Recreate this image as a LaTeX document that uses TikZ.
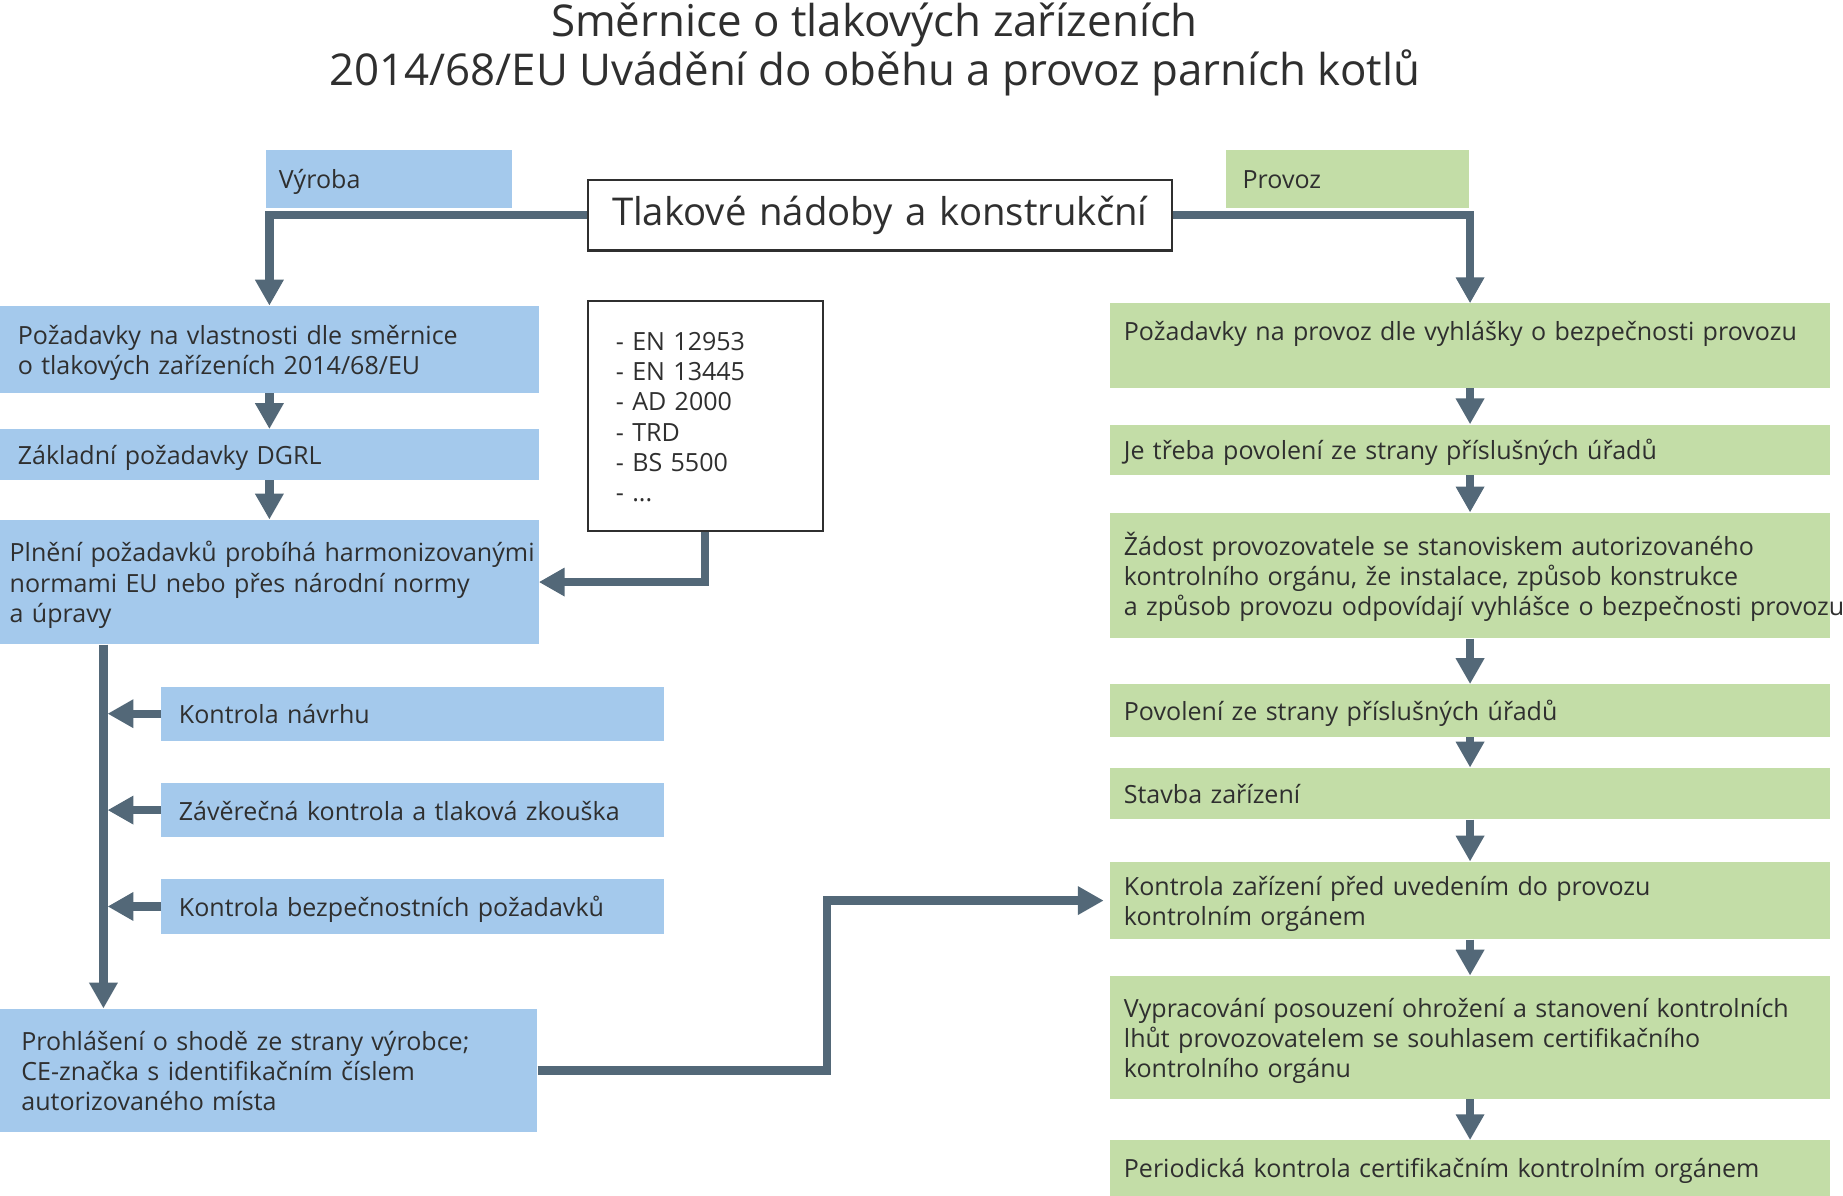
\documentclass[tikz,border=0pt]{standalone}
\usepackage{fontspec}
\setmainfont{Open Sans}
\usetikzlibrary{positioning, arrows.meta, calc}
\definecolor{BlueB}{HTML}{A4C9EC}
\definecolor{GreenB}{HTML}{C3DDA7}
\definecolor{SlateA}{HTML}{536878}
\definecolor{InkA}{HTML}{2F2F2F}
\tikzset{
  box/.style={anchor=north west, align=left, inner ysep=0pt, text=InkA, font=\fontsize{21.3}{25.7}\selectfont,
    text height=21pt, text depth=4pt},
  two/.style={text depth=29.7pt},
  three/.style={text depth=55.4pt},
  vy/.style={fill=BlueB},
  pr/.style={fill=GreenB, text width=589pt, inner xsep=12pt},
  frame/.style={draw=InkA, line width=2pt, fill=white},
  arr/.style={-{Triangle[length=22pt, width=23pt]}, line width=7pt, draw=SlateA, line join=miter}
}

\begin{document}
\begin{tikzpicture}[x=1pt, y=-1pt]
  \useasboundingbox (0,0) rectangle (1568,1017);
  \node[font=\fontsize{37.3}{42}\selectfont, align=center, text=InkA] (titel) at (744,42) {Směrnice o tlakových zařízeních\\2014/68/EU Uvádění do oběhu a provoz parních kotlů};

  \node[box,vy,text width=187pt,inner xsep=11pt,minimum height=50pt] (vyroba) at (226,127) {Výroba};
  \node[box,pr,text width=179pt,inner xsep=14pt,minimum height=50pt] (provoz) at (1043,127) {Provoz};
  \node[frame,anchor=north west,align=center,text=InkA,text width=457pt,inner xsep=20pt,minimum height=60pt,font=\fontsize{32.6}{36}\selectfont] (tlak) at (499,152) {Tlakové nádoby a konstrukční};

  % vyroba
  \node[box,two,vy,text width=428pt,inner xsep=15pt,minimum height=74pt] (b1) at (0,260) {Požadavky na vlastnosti dle směrnice\\o tlakových zařízeních 2014/68/EU};
  \node[box,vy,text width=428pt,inner xsep=15pt,minimum height=43pt] (b2) at (0,365) {Základní požadavky DGRL};
  \node[box,three,vy,text width=442pt,inner xsep=8pt,minimum height=106pt] (b3) at (0,442) {\mbox{Plnění požadavků probíhá harmonizovanými}\\normami EU nebo přes národní normy\\a úpravy};
  \node[box,frame,text width=152pt,inner xsep=24pt,minimum height=196pt,text depth=132.5pt] (normy) at (499,255) {- EN 12953\\- EN 13445\\- AD 2000\\- TRD\\- BS 5500\\- ...};
  \node[box,vy,text width=398pt,inner xsep=15pt,minimum height=46pt] (k1) at (137,584) {Kontrola návrhu};
  \node[box,vy,text width=398pt,inner xsep=15pt,minimum height=46pt] (k2) at (137,666) {Závěrečná kontrola a tlaková zkouška};
  \node[box,vy,text width=398pt,inner xsep=15pt,minimum height=46pt] (k3) at (137,748) {Kontrola bezpečnostních požadavků};
  \node[box,three,vy,text width=421pt,inner xsep=18pt,minimum height=105pt] (b4) at (0,858) {Prohlášení o shodě ze strany výrobce;\\CE-značka s identifikačním číslem\\autorizovaného místa};

  % provoz
  \node[box,two,pr,minimum height=72pt] (g1) at (944,258) {Požadavky na provoz dle vyhlášky o bezpečnosti provozu\\\strut};
  \node[box,pr,minimum height=43pt] (g2) at (944,361) {Je třeba povolení ze strany příslušných úřadů};
  \node[box,three,pr,minimum height=107pt] (g3) at (944,436) {Žádost provozovatele se stanoviskem autorizovaného\\kontrolního orgánu, že instalace, způsob konstrukce\\\mbox{a způsob provozu odpovídají vyhlášce o bezpečnosti provozu}};
  \node[box,pr,minimum height=45pt] (g4) at (944,582) {Povolení ze strany příslušných úřadů};
  \node[box,pr,minimum height=44pt] (g5) at (944,653) {Stavba zařízení};
  \node[box,two,pr,minimum height=66pt] (g6) at (944,733) {Kontrola zařízení před uvedením do provozu\\kontrolním orgánem};
  \node[box,three,pr,minimum height=105pt] (g7) at (944,830) {Vypracování posouzení ohrožení a stanovení kontrolních\\lhůt provozovatelem se souhlasem certifikačního\\kontrolního orgánu};
  \node[box,pr,minimum height=47pt] (g8) at (944,970) {Periodická kontrola certifikačním kontrolním orgánem};

  \draw[arr] (tlak.west) -| (b1.north);
  \draw[arr] (tlak.east) -| (g1.north);
  \draw[arr] (b1) -- (b2);
  \draw[arr] (b2) -- (b3);
  \draw[arr] (normy.south) |- (b3.east);
  \coordinate (stem) at ([xshift=88pt]b3.south west);
  \draw[arr] (stem) -- (stem |- b4.north);
  \foreach \k in {k1,k2,k3}
    \draw[arr] (\k.west) -- ([xshift=3.5pt]\k.west -| stem);
  \draw[arr, shorten >=5pt] (b4.east) -- ++(246,0) |- (g6.west);
  \foreach \a/\b in {g1/g2,g2/g3,g3/g4,g4/g5,g5/g6,g6/g7,g7/g8}
    \draw[arr] (\a) -- (\b);
\end{tikzpicture}
\end{document}
